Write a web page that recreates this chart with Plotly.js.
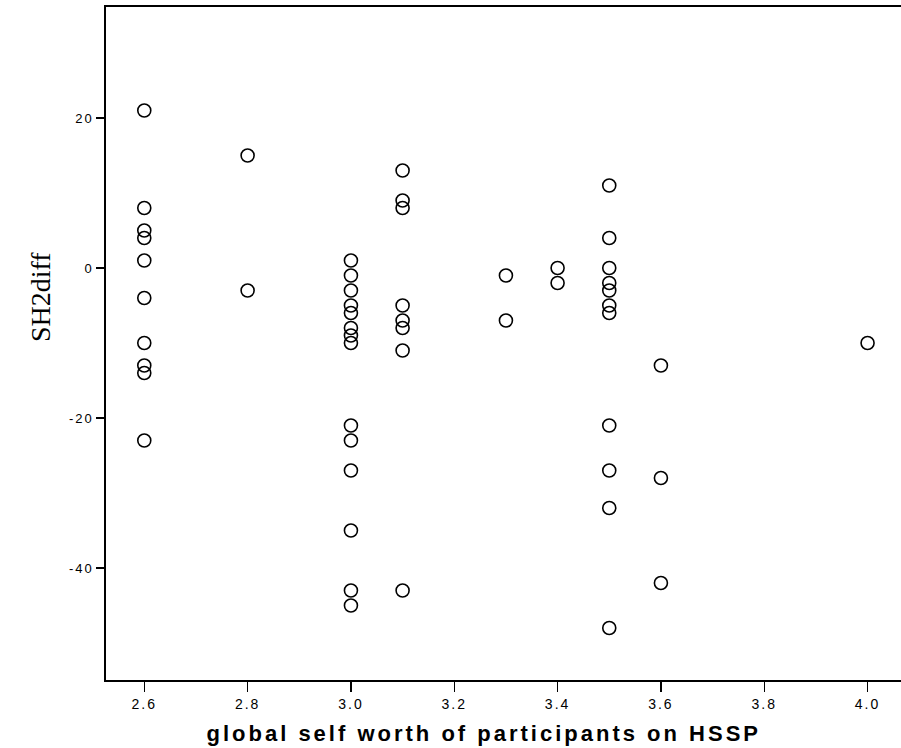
<!DOCTYPE html>
<html>
<head>
<meta charset="utf-8">
<script src="https://cdn.plot.ly/plotly-3.0.1.min.js"></script>
<style>
html,body{margin:0;padding:0;background:#fff;}
#chart{width:901px;height:748px;}
.xtick text, .ytick text { letter-spacing: 2px; }
g.annotation[data-index="1"] text { letter-spacing: 3px; }
</style>
</head>
<body>
<div id="chart"></div>
<script>
// global self worth (x) and SH2diff (y)
var selfWorth = [
  2.6, 2.6, 2.6, 2.6, 2.6, 2.6, 2.6, 2.6, 2.6, 2.6,
  2.8, 2.8,
  3.0, 3.0, 3.0, 3.0, 3.0, 3.0, 3.0, 3.0, 3.0, 3.0, 3.0, 3.0, 3.0, 3.0,
  3.1, 3.1, 3.1, 3.1, 3.1, 3.1, 3.1, 3.1,
  3.3, 3.3,
  3.4, 3.4,
  3.5, 3.5, 3.5, 3.5, 3.5, 3.5, 3.5, 3.5, 3.5, 3.5, 3.5,
  3.6, 3.6, 3.6,
  4.0
];
var sh2diff = [
  21, 8, 5, 4, 1, -4, -10, -13, -14, -23,
  15, -3,
  1, -1, -3, -5, -6, -8, -9, -10, -21, -23, -27, -35, -43, -45,
  13, 9, 8, -5, -7, -8, -11, -43,
  -1, -7,
  0, -2,
  11, 4, 0, -2, -3, -5, -6, -21, -27, -32, -48,
  -13, -28, -42,
  -10
];
var xTickVals = [2.6, 2.8, 3.0, 3.2, 3.4, 3.6, 3.8, 4.0];
var xTickText = ['2.6', '2.8', '3.0', '3.2', '3.4', '3.6', '3.8', '4.0'];
var yTickVals = [20, 0, -20, -40];
var yTickText = ['20', '0', '-20', '-40'];

var trace = {
  type: 'scatter',
  mode: 'markers',
  x: selfWorth,
  y: sh2diff,
  marker: {symbol: 'circle-open', size: 13, color: '#000', line: {width: 1.6, color: '#000'}},
  hoverinfo: 'x+y'
};

var layout = {
  width: 901, height: 748,
  margin: {l: 106, r: 0, t: 7, b: 68, pad: 0},
  paper_bgcolor: '#fff', plot_bgcolor: '#fff',
  showlegend: false,
  font: {family: 'Liberation Sans, Arial, sans-serif', color: '#000', size: 12},
  xaxis: {
    range: [2.5259, 4.0647],
    tickvals: xTickVals, ticktext: xTickText,
    ticks: 'outside', ticklen: 10, tickwidth: 1.5, tickcolor: '#000',
    showline: true, mirror: true, linecolor: '#000', linewidth: 2,
    showgrid: false, zeroline: false,
    tickfont: {family: 'Liberation Sans, Arial, sans-serif', size: 14, color: '#000'}
  },
  yaxis: {
    range: [-54.93, 34.8],
    tickvals: yTickVals, ticktext: yTickText,
    ticks: 'outside', ticklen: 8, tickwidth: 1.3, tickcolor: '#000',
    showline: true, mirror: false, linecolor: '#000', linewidth: 1.6,
    showgrid: false, zeroline: false,
    tickfont: {family: 'Liberation Sans, Arial, sans-serif', size: 13, color: '#000'}
  },
  annotations: [
    {text: 'SH2diff', xref: 'paper', yref: 'paper', x: -0.083, y: 0.569, xanchor: 'center', yanchor: 'middle',
     textangle: -90, showarrow: false, font: {family: 'Liberation Serif, Times New Roman, serif', size: 28, color: '#000'}},
    {text: 'global self worth of participants on HSSP', xref: 'paper', yref: 'paper', x: 0.475, y: -0.08, xanchor: 'center', yanchor: 'middle',
     showarrow: false, font: {family: 'Liberation Sans, Arial, sans-serif', size: 22, color: '#000', weight: 'bold'}}
  ]
};

Plotly.newPlot('chart', [trace], layout, {displayModeBar: false, staticPlot: true});
</script>
</body>
</html>
